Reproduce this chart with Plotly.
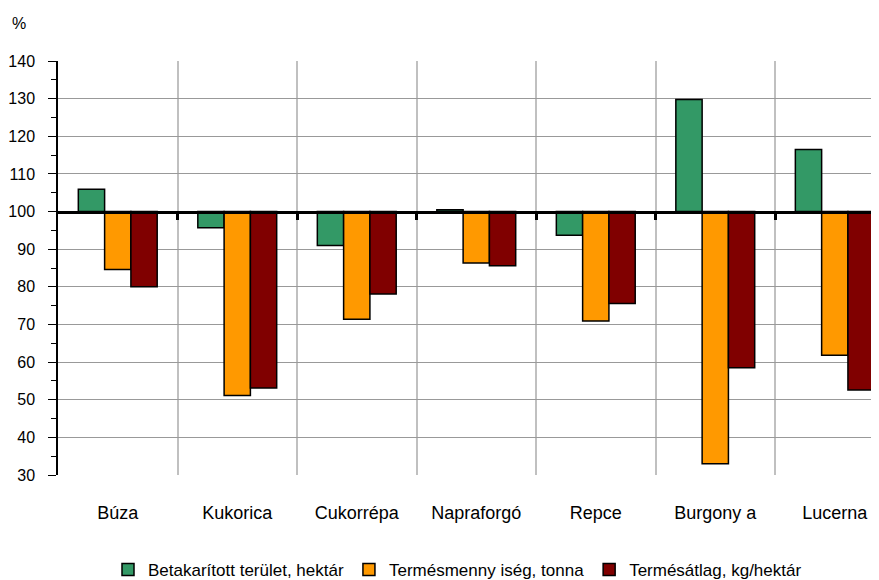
import plotly.graph_objects as go

categories = ["Búza", "Kukorica", "Cukorrépa", "Napraforgó", "Repce", "Burgony a", "Lucerna"]
terulet = [105.9, 95.7, 91.0, 100.5, 93.7, 129.8, 116.5]
termesmennyiseg = [84.6, 51.1, 71.4, 86.3, 70.9, 33.0, 61.8]
termesatlag = [80.0, 53.1, 78.1, 85.6, 75.6, 58.5, 52.6]
series_names = ["Betakarított terület, hektár", "Termésmenny iség, tonna", "Termésátlag, kg/hektár"]
colors = ["#339966", "#FF9900", "#800000"]
y_ticks = list(range(30, 141, 10))
BASE = 100

FONT = "Liberation Sans, Arial, sans-serif"
xpos = list(range(len(categories)))

fig = go.Figure()
for name, vals, col in zip(series_names, [terulet, termesmennyiseg, termesatlag], colors):
    fig.add_trace(go.Bar(
        x=xpos, y=[v - BASE for v in vals], base=BASE, name=name,
        marker=dict(color=col, line=dict(color="black", width=1.5)),
    ))

xrange = [-0.5, 6.37]
fig.update_layout(
    width=871, height=572,
    margin=dict(l=50, r=0, t=53, b=105, autoexpand=False),
    paper_bgcolor="white", plot_bgcolor="white",
    barmode="group", bargap=0.34, bargroupgap=0,
    font=dict(family=FONT, size=16, color="black"),
    showlegend=True,
    legend=dict(orientation="h", xref="container", x=100 / 871, xanchor="left",
                yref="container", y=0.0175, yanchor="middle",
                font=dict(size=17), itemwidth=30, tracegroupgap=0),
    xaxis=dict(range=xrange, tickvals=xpos, ticktext=categories, showgrid=False,
               zeroline=False, showline=False, ticks="", ticklabelstandoff=25,
               tickfont=dict(size=18),
               minor=dict(tick0=-0.5, dtick=1, showgrid=True, gridcolor="#c0c0c0", gridwidth=1.5, ticks="")),
    xaxis2=dict(range=xrange, overlaying="x", anchor="free", position=(BASE - 30) / 110,
                showline=True, linecolor="black", linewidth=3,
                tickvals=[i + 0.5 for i in xpos], ticks="outside", ticklen=6, tickwidth=3,
                tickcolor="black", showticklabels=False, showgrid=False, zeroline=False),
    yaxis=dict(range=[30, 140], tickvals=y_ticks, showgrid=True, gridcolor="#999999", gridwidth=1,
               zeroline=False, showline=True, linecolor="black", linewidth=1.5,
               ticks="outside", ticklen=8, tickcolor="black", ticklabelstandoff=10,
               tickfont=dict(size=16),
               minor=dict(dtick=5, ticks="outside", ticklen=5, tickcolor="black", showgrid=False)),
)
# invisible trace to activate xaxis2
fig.add_trace(go.Scatter(x=[0], y=[BASE], xaxis="x2", mode="markers",
                         marker=dict(opacity=0), showlegend=False, hoverinfo="skip"))
fig.add_annotation(text="%", xref="paper", yref="paper", x=-0.058, y=1.0, xanchor="left",
                   yshift=38, yanchor="middle", showarrow=False, font=dict(size=16))
fig.write_html("out.html")
